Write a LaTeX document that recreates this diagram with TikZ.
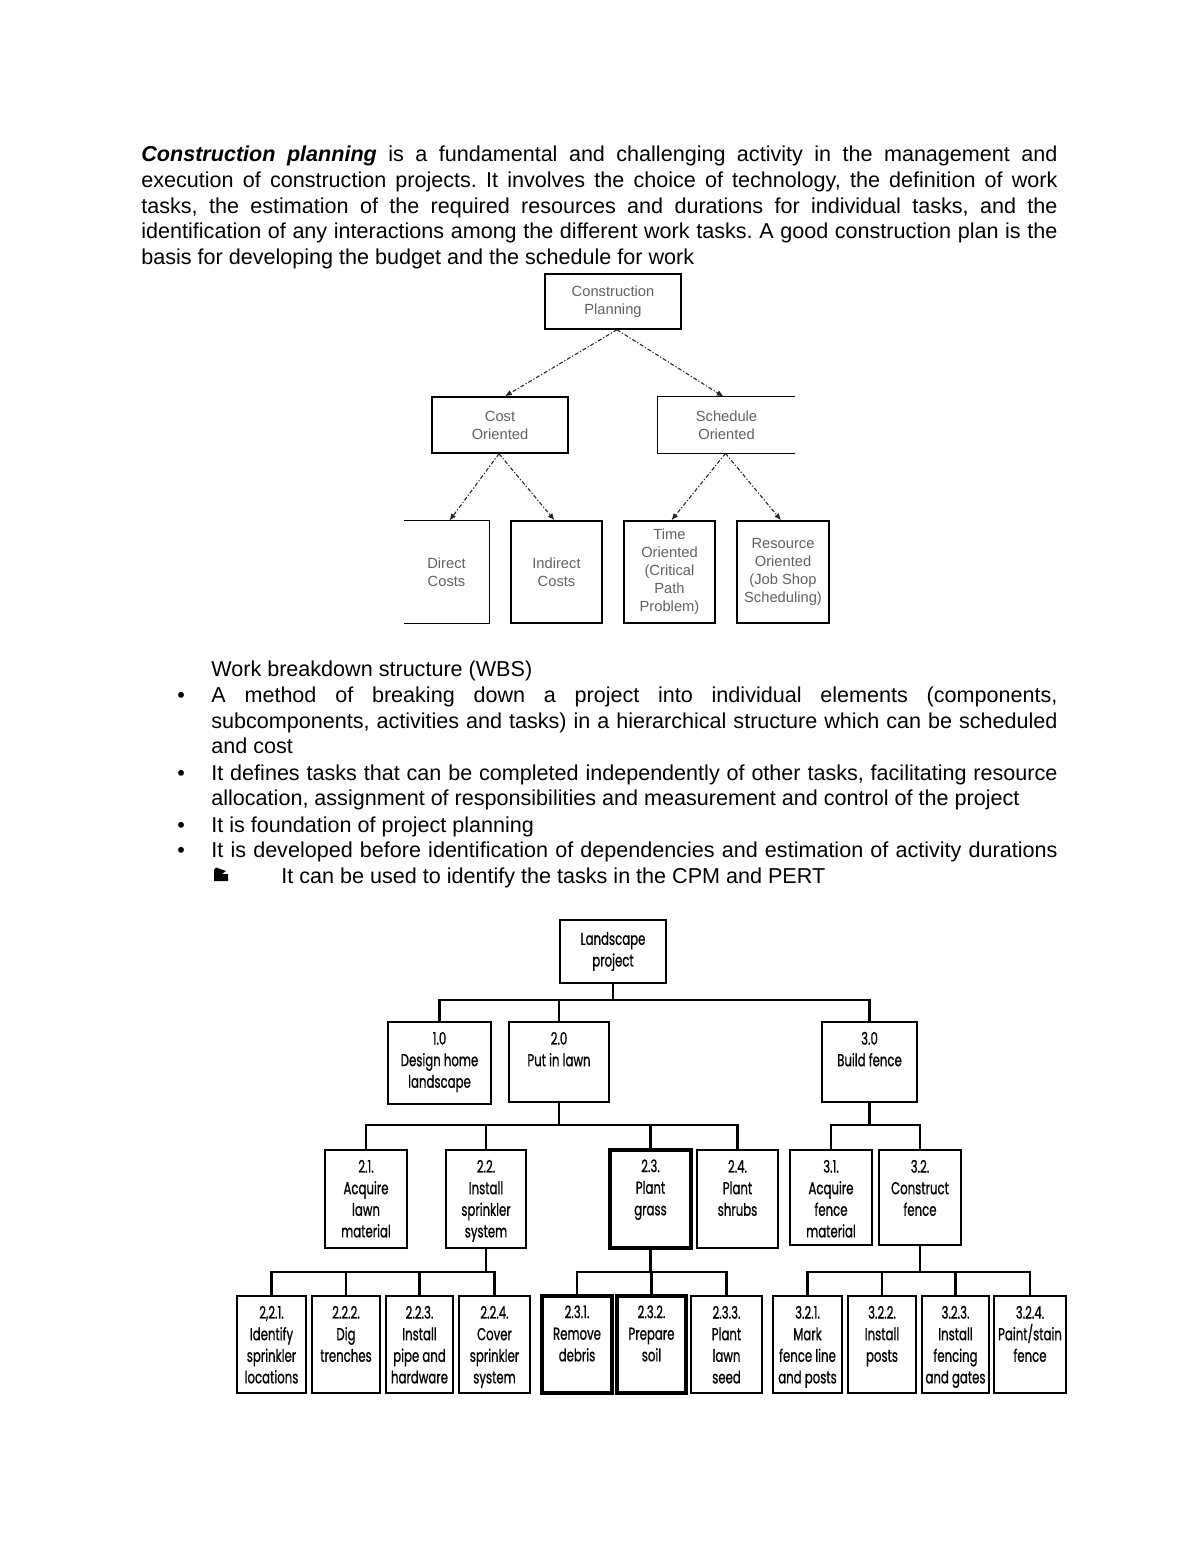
\documentclass[tikz,border=0pt]{standalone}
\usepackage{fontspec}
\setmainfont{Liberation Sans}
\newfontfamily\wbsfont[FakeStretch=0.68,FakeBold=0.8]{Poppins}
\usetikzlibrary{arrows.meta,calc}
\frenchspacing

\tikzset{
 cpbox/.style={draw=black, line width=0.8pt, inner sep=0pt},
 cpopen/.style={inner sep=0pt},
 cptext/.style={align=center, font=\fontsize{7.5}{9.2}\selectfont, text=black!62},
 dasharrow/.style={line width=0.55pt, draw=black!85, dash pattern=on 2pt off 1pt on 0.6pt off 1pt, -{Latex[length=3.5pt,width=3pt]}},
 wbsbox/.style={draw=black, line width=1.5pt, inner sep=0pt},
 wbsthick/.style={draw=black, line width=2pt, inner sep=0pt},
 wbstext/.style={align=center, font=\wbsfont\fontsize{8.8}{11}\selectfont, inner sep=0pt},
 conn/.style={line width=1.1pt},
 body/.style={anchor=base west, inner sep=0pt, font=\fontsize{11}{13}\selectfont},
}

\newcommand\drawbox[7][cpbox]{%
 \pgfmathsetmacro\bcx{(#3+#5)/2}%
 \pgfmathsetmacro\bcy{(#4+#6)/2}%
 \pgfmathsetmacro\bw{(#5-#3)*0.51}%
 \pgfmathsetmacro\bh{(#6-#4)*0.51}%
 \node[#1, minimum width=\bw pt, minimum height=\bh pt] (#2) at (\bcx,\bcy) {#7};}

\newcommand\wbsnode[7][wbsbox]{%
 \drawbox[#1]{#2}{#3}{#4}{#5}{#6}{}%
 \node[wbstext, anchor=north] (#2t) at ($(#2.north)+(0,11)$) {#7};}

\begin{document}
\begin{tikzpicture}[x=0.51pt,y=-0.51pt]
\useasboundingbox (0,0) rectangle (1200,1553);

% ---------- first paragraph ----------
\node[body] (p1) at (141,162) {\makebox[467.2pt][s]{\textbf{\textit{Construction planning}} is a fundamental and challenging activity in the management and}};
\node[body] (p2) at (141,187.6) {\makebox[467.2pt][s]{execution of construction projects. It involves the choice of technology, the definition of work}};
\node[body] (p3) at (141,213.2) {\makebox[467.2pt][s]{tasks, the estimation of the required resources and durations for individual tasks, and the}};
\node[body] (p4) at (141,238.8) {\makebox[467.2pt][s]{identification of any interactions among the different work tasks. A good construction plan is the}};
\node[body] (p5) at (141,264.4) {basis for developing the budget and the schedule for work};

% ---------- construction planning diagram ----------
\drawbox[cpbox,cptext]{cp}{545}{274}{681}{329}{Construction\\Planning}
\drawbox[cpbox,cptext]{co}{432}{397}{568}{453}{Cost\\Oriented}
\drawbox[cpopen,cptext]{so}{658}{397}{795}{453}{Schedule\\Oriented}
\draw[line width=0.8pt] (so.north east) -- (so.north west) -- (so.south west) -- (so.south east);
\drawbox[cpopen,cptext]{dc}{404}{521}{489}{623}{Direct\\Costs}
\draw[line width=0.8pt] (dc.north west) -- (dc.north east) -- (dc.south east) -- (dc.south west);
\drawbox[cpbox,cptext]{ic}{511}{521}{602}{623}{Indirect\\Costs}
\drawbox[cpbox,cptext]{to}{624}{521}{715}{623}{Time\\Oriented\\(Critical\\Path\\Problem)}
\drawbox[cpbox,cptext]{ro}{737}{521}{829}{623}{Resource\\Oriented\\(Job Shop\\Scheduling)}

\draw[dasharrow] ($(cp.south)+(4,0)$) -- ($(co.north)+(5,0)$);
\draw[dasharrow] ($(cp.south)+(4,0)$) -- ($(so.north)+(-3,0)$);
\draw[dasharrow] ($(co.south)+(-1,0)$) -- ($(dc.north)+(3,0)$);
\draw[dasharrow] ($(co.south)+(-1,0)$) -- ($(ic.north)+(-2,0)$);
\draw[dasharrow] ($(so.south)+(-1,0)$) -- ($(to.north)+(2,0)$);
\draw[dasharrow] ($(so.south)+(-1,0)$) -- ($(ro.north)+(-2,0)$);

% ---------- WBS text ----------
\node[body] (w0) at (211,676) {Work breakdown structure (WBS)};
\node[body] (b1) at (177,702) {•};
\node[body] (l1) at (211,702) {\makebox[431.5pt][s]{A method of breaking down a project into individual elements (components,}};
\node[body] (l2) at (211,728) {\makebox[431.5pt][s]{subcomponents, activities and tasks) in a hierarchical structure which can be scheduled}};
\node[body] (l3) at (211,753) {and cost};
\node[body] (b2) at (177,780) {•};
\node[body] (l4) at (211,780) {\makebox[431.5pt][s]{It defines tasks that can be completed independently of other tasks, facilitating resource}};
\node[body] (l5) at (211,805) {allocation, assignment of responsibilities and measurement and control of the project};
\node[body] (b3) at (177,832) {•};
\node[body] (l6) at (211,832) {It is foundation of project planning};
\node[body] (b4) at (177,857) {•};
\node[body] (l7) at (211,857) {\makebox[431.5pt][s]{It is developed before identification of dependencies and estimation of activity durations}};
\fill (214,881) -- (228,881) -- (228,874) -- (222,874) -- (226,871) -- (216,867.5) -- (214,870) -- cycle;
\node[body] (l8) at (281,883) {It can be used to identify the tasks in the CPM and PERT};

% ---------- WBS diagram ----------
\drawbox[wbsbox,wbstext]{lp}{560}{920}{666}{983}{Landscape\\project}
\wbsnode{w1}{388}{1022}{491}{1104}{1.0\\Design home\\landscape}
\wbsnode{w2}{509}{1022}{609}{1102}{2.0\\Put in lawn}
\wbsnode{w3}{822}{1022}{917}{1102}{3.0\\Build fence}

\wbsnode{w21}{325}{1150}{407}{1248}{2.1.\\Acquire\\lawn\\material}
\wbsnode{w22}{446}{1150}{526}{1248}{2.2.\\Install\\sprinkler\\system}
\wbsnode[wbsthick]{w23}{610}{1150}{691}{1248}{2.3.\\Plant\\grass}
\wbsnode{w24}{697}{1150}{778}{1248}{2.4.\\Plant\\shrubs}
\wbsnode{w31}{790}{1150}{872}{1245}{3.1.\\Acquire\\fence\\material}
\wbsnode{w32}{879}{1150}{961}{1245}{3.2.\\Construct\\fence}

\wbsnode{w221}{237}{1296}{306}{1393}{2,2.1.\\Identify\\sprinkler\\locations}
\wbsnode{w222}{312}{1296}{380}{1393}{2.2.2.\\Dig\\trenches}
\wbsnode{w223}{386}{1296}{453}{1393}{2.2.3.\\Install\\pipe and\\hardware}
\wbsnode{w224}{459}{1296}{530}{1393}{2.2.4.\\Cover\\sprinkler\\system}
\wbsnode[wbsthick]{w231}{542}{1296}{612}{1393}{2.3.1.\\Remove\\debris}
\wbsnode[wbsthick]{w232}{617}{1296}{686}{1393}{2.3.2.\\Prepare\\soil}
\wbsnode{w233}{691}{1296}{762}{1393}{2.3.3.\\Plant\\lawn\\seed}
\wbsnode{w321}{773}{1296}{842}{1393}{3.2.1.\\Mark\\fence line\\and posts}
\wbsnode{w322}{848}{1296}{916}{1393}{3.2.2.\\Install\\posts}
\wbsnode{w323}{922}{1296}{989}{1393}{3.2.3.\\Install\\fencing\\and gates}
\wbsnode{w324}{994}{1296}{1066}{1393}{3.2.4.\\Paint/stain\\fence}

% connectors
\coordinate (bar0) at (613,1000);
\draw[conn] (lp.south) -- (lp.south |- bar0);
\draw[conn] (w1.north) -- (w1.north |- bar0) -- (w3.north |- bar0) -- (w3.north);
\draw[conn] (w2.north) -- (w2.north |- bar0);

\coordinate (bar2) at (559,1125);
\draw[conn] (w2.south) -- (w2.south |- bar2);
\draw[conn] (w21.north) -- (w21.north |- bar2) -- (w24.north |- bar2) -- (w24.north);
\draw[conn] (w22.north) -- (w22.north |- bar2);
\draw[conn] (w23.north) -- (w23.north |- bar2);

\coordinate (bar3) at (869,1125);
\draw[conn] (w3.south) -- (w3.south |- bar3);
\draw[conn] (w31.north) -- (w31.north |- bar3) -- (w32.north |- bar3) -- (w32.north);

\coordinate (bar22) at (486,1272);
\draw[conn] (w22.south) -- (w22.south |- bar22);
\draw[conn] (w221.north) -- (w221.north |- bar22) -- (w224.north |- bar22) -- (w224.north);
\draw[conn] (w222.north) -- (w222.north |- bar22);
\draw[conn] (w223.north) -- (w223.north |- bar22);

\coordinate (bar23) at (651,1272);
\draw[conn] (w23.south) -- (w23.south |- bar23);
\draw[conn] (w231.north) -- (w231.north |- bar23) -- (w233.north |- bar23) -- (w233.north);
\draw[conn] (w232.north) -- (w232.north |- bar23);

\coordinate (bar32) at (920,1272);
\draw[conn] (w32.south) -- (w32.south |- bar32);
\draw[conn] (w321.north) -- (w321.north |- bar32) -- (w324.north |- bar32) -- (w324.north);
\draw[conn] (w322.north) -- (w322.north |- bar32);
\draw[conn] (w323.north) -- (w323.north |- bar32);
\end{tikzpicture}
\end{document}
